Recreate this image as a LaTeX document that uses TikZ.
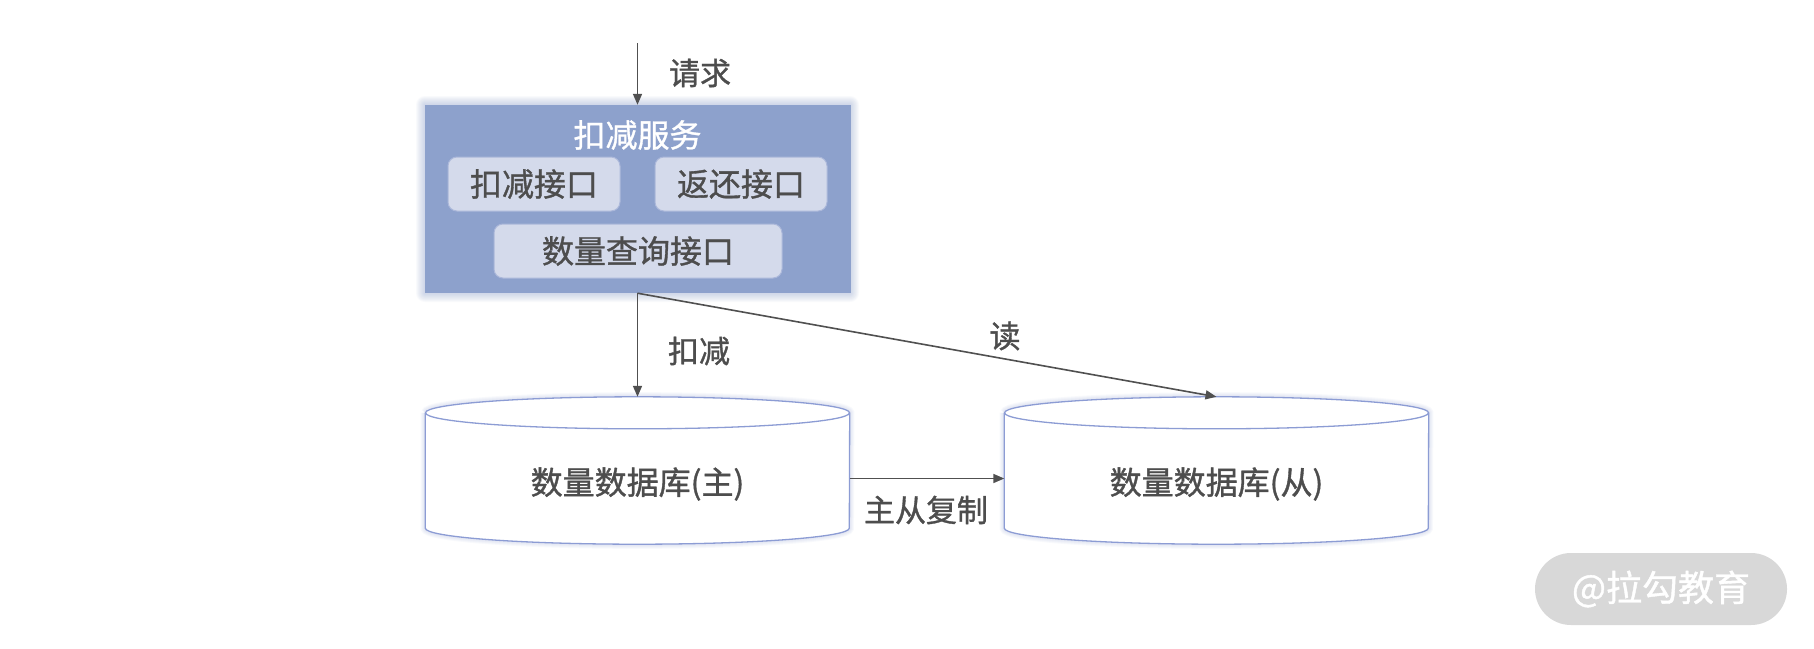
\documentclass[tikz,border=0pt]{standalone}
\usepackage{fontspec}
\setmainfont{Noto Sans CJK SC}[FakeBold=1.1]
\usetikzlibrary{arrows.meta}
\definecolor{txt}{RGB}{77,77,77}
\definecolor{svcfill}{RGB}{141,161,204}
\definecolor{ifill}{RGB}{212,218,235}
\definecolor{iline}{RGB}{172,184,218}
\definecolor{dbline}{RGB}{140,156,212}
\definecolor{wm}{RGB}{216,216,216}
\definecolor{arrcol}{RGB}{80,80,80}
\tikzset{
  lbl/.style={text=txt, font=\fontsize{31pt}{36pt}\selectfont, inner sep=0pt},
  svcbox/.style={fill=svcfill, draw=none, minimum width=426pt, minimum height=188pt, inner sep=0pt},
  title/.style={text=white, font=\fontsize{32pt}{38pt}\selectfont, inner sep=0pt},
  iface/.style={fill=ifill, draw=iline, line width=1pt, rounded corners=9pt, minimum height=54pt, inner sep=0pt, text=txt, font=\fontsize{32pt}{38pt}\selectfont},
  dbbox/.style={draw=none, minimum width=424pt, minimum height=147pt, inner sep=0pt},
  dbline/.style={draw=dbline, line width=1.3pt, fill=white},
  arr/.style={draw=arrcol, line width=1.6pt, -{Triangle[length=11pt,width=9pt]}},
}
\begin{document}
\begin{tikzpicture}[x=1pt,y=1pt]
\useasboundingbox (0,0) rectangle (1814,-648);
\fill[white] (0,0) rectangle (1814,-648);
% service box glow
\foreach \i in {1,...,9} {
  \fill[svcfill, opacity=0.05, rounded corners=\i pt] (425-\i,-105+\i) rectangle (850+\i,-293-\i);
}
\node[svcbox] (svc) at (637.5,-199) {};
\node[title] (svct) at (637.5,-135) {扣减服务};
\node[iface, minimum width=172pt] (i1) at (534,-184) {扣减接口};
\node[iface, minimum width=172pt] (i2) at (741,-184) {返还接口};
\node[iface, minimum width=288pt] (i3) at (638,-251) {数量查询接口};
% request
\coordinate (req) at (637.5,-43);
\draw[arr] (req) -- (svc.north);
\node[lbl] (reql) at (700,-73) {请求};
% databases
\node[dbbox] (m) at (637.5,-470.5) {};
\node[dbbox] (s) at (1216.5,-470.5) {};
\foreach \c in {m,s} {
  \foreach \i in {1,...,4} {
    \draw[dbline, opacity=0.06, line width=1.3pt+2*\i pt, fill=none] ([yshift=-16pt]\c.north west) -- ([yshift=16pt]\c.south west)
       arc[start angle=180, end angle=360, x radius=212pt, y radius=16pt]
       -- ([yshift=-16pt]\c.north east) arc[start angle=0, end angle=180, x radius=212pt, y radius=16pt];
  }
  \draw[dbline] ([yshift=-16pt]\c.north west) -- ([yshift=16pt]\c.south west)
     arc[start angle=180, end angle=360, x radius=212pt, y radius=16pt]
     -- ([yshift=-16pt]\c.north east);
  \draw[dbline] ([yshift=-16pt]\c.north) ellipse [x radius=212pt, y radius=16pt];
}
\node[lbl, font=\fontsize{32pt}{38pt}\selectfont] (mt) at (637.5,-484) {数量数据库(主)};
\node[lbl, font=\fontsize{32pt}{38pt}\selectfont] (st) at (1216.5,-484) {数量数据库(从)};
% connectors
\draw[arr] (svc.south) -- (m.north);
\draw[arr] (svc.south) -- (s.north);
\draw[arr] ([yshift=-8pt]m.east) -- ([yshift=-8pt]s.west);
\node[lbl] (kj) at (699,-351) {扣减};
\node[lbl] (du) at (1005,-336) {读};
\node[lbl] (zc) at (926,-510) {主从复制};
% watermark
\node[fill=wm, rounded corners=36pt, minimum width=252pt, minimum height=72pt, inner sep=0pt, text=white, font=\fontsize{36pt}{42pt}\selectfont] (wm) at (1661,-589) {@拉勾教育};
\end{tikzpicture}
\end{document}
